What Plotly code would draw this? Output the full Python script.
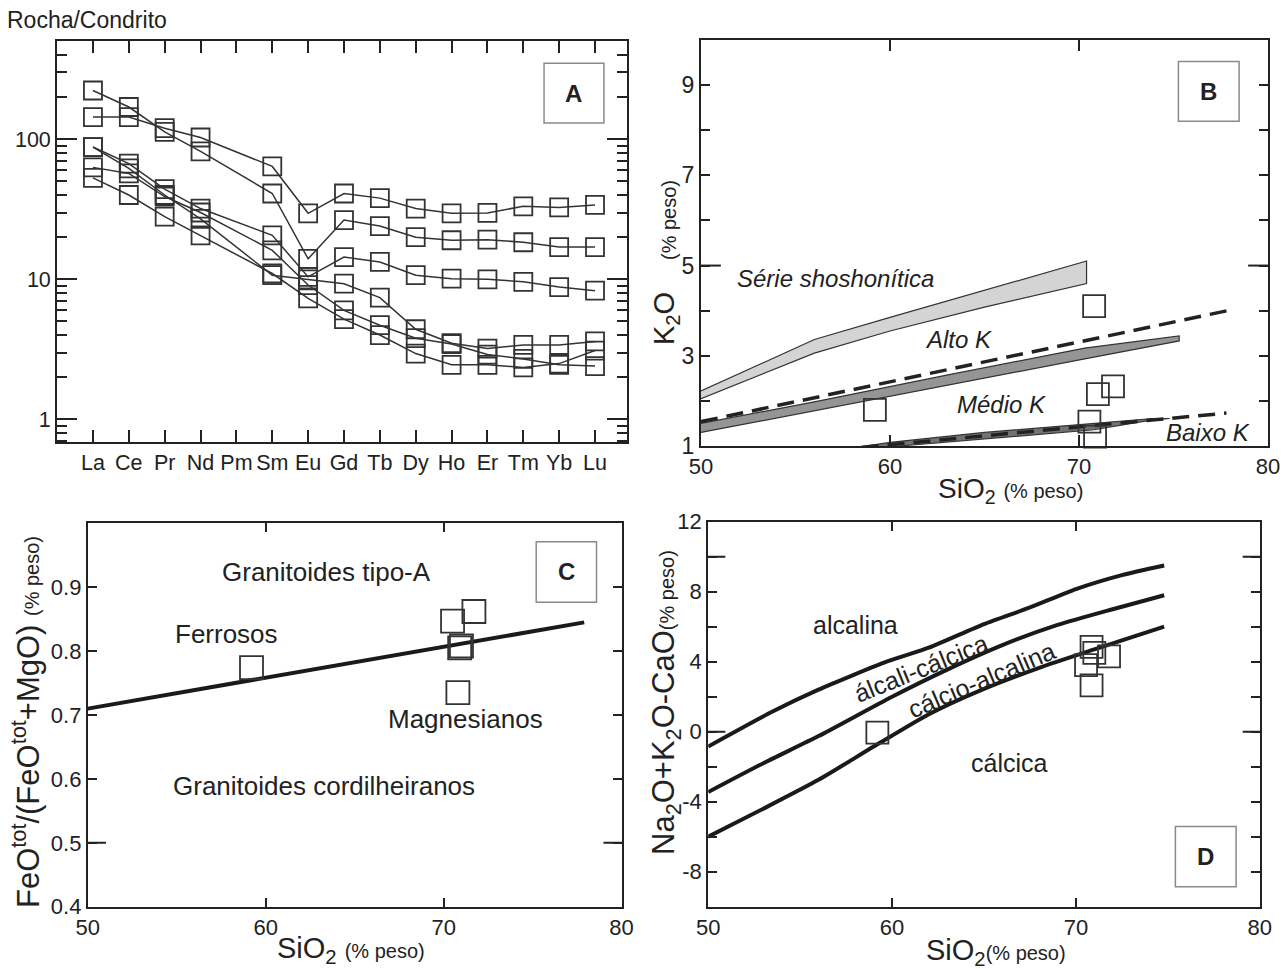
import plotly.graph_objects as go

FONT = "Liberation Sans, Arial, sans-serif"
INK = "#222222"
BOX = "#333333"

# ---------------- Panel A: REE / chondrite ----------------
ree = ["La", "Ce", "Pr", "Nd", "Pm", "Sm", "Eu", "Gd", "Tb", "Dy", "Ho", "Er", "Tm", "Yb", "Lu"]
ree_s1 = [223, 170, 113, 82, None, 41, 14, 26.5, 24, 20, 19, 19.2, 18.4, 17, 17]
ree_s2 = [144, 144, 120, 103, None, 64, 29.6, 41, 38, 32, 29.6, 29.8, 33.2, 32.6, 34]
ree_s3 = [88, 67, 44, 32, None, 20.6, 10.4, 14.4, 13.3, 10.7, 10.1, 10.0, 9.6, 8.8, 8.3]
ree_s4 = [88, 62, 40, 27, None, 10.7, 10.0, 9.3, 7.4, 4.4, 3.5, 3.2, 3.4, 3.4, 3.6]
ree_s5 = [63, 57, 39, 30, None, 16.1, 9.1, 6.0, 4.7, 3.8, 3.45, 2.9, 2.7, 2.45, 2.4]
ree_s6 = [53, 40, 28, 20.6, None, 11.0, 7.3, 5.2, 4.0, 2.95, 2.45, 2.45, 2.35, 2.5, 3.1]
ree_series = [ree_s1, ree_s2, ree_s3, ree_s4, ree_s5, ree_s6]
a_yticks = [1, 10, 100]
a_minor = [0.7, 0.8, 0.9, 2, 3, 4, 5, 6, 7, 8, 9, 20, 30, 40, 50, 60, 70, 80, 90, 200, 300, 400]

# ---------------- Panel B: K2O vs SiO2 ----------------
b_sio2 = [59.2, 70.8, 71.0, 71.8, 70.55, 70.85]
b_k2o = [1.8, 4.1, 2.15, 2.32, 1.54, 1.21]
sho_x = [50, 56, 60, 65, 70.4, 70.4, 65, 60, 56, 50]
sho_y = [2.22, 3.36, 3.85, 4.45, 5.1, 4.6, 4.08, 3.55, 3.06, 2.05]
med_x = [50, 56, 63, 70.3, 75.3, 75.3, 70.3, 63, 56, 50]
med_y = [1.5, 1.98, 2.57, 3.17, 3.44, 3.33, 2.93, 2.34, 1.78, 1.3]
low_x = [58.7, 60, 65, 70.8, 73.9, 74.8, 73.9, 70.8, 65, 60.5]
low_y = [1.0, 1.08, 1.3, 1.5, 1.61, 1.61, 1.58, 1.36, 1.16, 1.0]
dash_hi_x = [50, 78.2]
dash_hi_y = [1.54, 4.03]
dash_lo_x = [58.5, 77.8]
dash_lo_y = [0.97, 1.73]

# ---------------- Panel C: Fe-number ----------------
c_sio2 = [59.2, 70.5, 71.7, 70.9, 71.0, 70.8]
c_fe = [0.774, 0.847, 0.862, 0.805, 0.808, 0.735]
c_line_x = [50, 77.9]
c_line_y = [0.71, 0.845]

# ---------------- Panel D: MALI ----------------
d_sio2 = [59.2, 70.55, 70.85, 71.0, 71.8, 70.85]
d_mali = [-0.05, 3.8, 4.85, 4.5, 4.3, 2.65]
d_up_x = [50, 53.5, 56, 59.7, 62, 65, 67.5, 70, 72.5, 74.8]
d_up_y = [-0.85, 1.15, 2.4, 4.0, 4.8, 6.15, 7.1, 8.15, 8.95, 9.5]
d_mid_x = [50, 53, 56, 60, 63, 66, 69, 72, 74.8]
d_mid_y = [-3.45, -1.8, -0.25, 2.0, 3.55, 4.95, 6.1, 7.0, 7.8]
d_low_x = [50, 53, 56, 59, 62, 65, 68, 71, 74.8]
d_low_y = [-6.0, -4.4, -2.75, -0.85, 1.0, 2.45, 3.65, 4.7, 6.0]

fig = go.Figure()

# Panel A traces
for s in ree_series:
    fig.add_trace(go.Scatter(
        x=ree, y=s, mode="lines+markers", connectgaps=True,
        line=dict(color="#333333", width=1.5),
        marker=dict(symbol="square-open", size=18, color=BOX, line=dict(width=1.8, color=BOX)),
        xaxis="x", yaxis="y", showlegend=False, cliponaxis=False))

# Panel B traces
fig.add_trace(go.Scatter(x=sho_x, y=sho_y, mode="lines", fill="toself", fillcolor="#d4d4d4",
                         line=dict(color="#333333", width=1.2), xaxis="x2", yaxis="y2", showlegend=False))
fig.add_trace(go.Scatter(x=med_x, y=med_y, mode="lines", fill="toself", fillcolor="#959595",
                         line=dict(color="#333333", width=1.2), xaxis="x2", yaxis="y2", showlegend=False))
fig.add_trace(go.Scatter(x=low_x, y=low_y, mode="lines", fill="toself", fillcolor="#727272",
                         line=dict(color="#333333", width=1.2), xaxis="x2", yaxis="y2", showlegend=False))
fig.add_trace(go.Scatter(x=dash_hi_x, y=dash_hi_y, mode="lines",
                         line=dict(color="#222222", width=3.5, dash="17px,9px"),
                         xaxis="x2", yaxis="y2", showlegend=False))
fig.add_trace(go.Scatter(x=dash_lo_x, y=dash_lo_y, mode="lines",
                         line=dict(color="#222222", width=3.5, dash="17px,9px"),
                         xaxis="x2", yaxis="y2", showlegend=False))
fig.add_trace(go.Scatter(x=b_sio2, y=b_k2o, mode="markers",
                         marker=dict(symbol="square-open", size=22, color=BOX, line=dict(width=1.8, color=BOX)),
                         xaxis="x2", yaxis="y2", showlegend=False, cliponaxis=False))

# Panel C traces
fig.add_trace(go.Scatter(x=c_line_x, y=c_line_y, mode="lines", line=dict(color="#1a1a1a", width=4),
                         xaxis="x3", yaxis="y3", showlegend=False))
fig.add_trace(go.Scatter(x=c_sio2, y=c_fe, mode="markers",
                         marker=dict(symbol="square-open", size=23, color=BOX, line=dict(width=1.8, color=BOX)),
                         xaxis="x3", yaxis="y3", showlegend=False, cliponaxis=False))

# Panel D traces
for xx, yy in [(d_up_x, d_up_y), (d_mid_x, d_mid_y), (d_low_x, d_low_y)]:
    fig.add_trace(go.Scatter(x=xx, y=yy, mode="lines", line=dict(color="#1a1a1a", width=4, shape="spline", smoothing=0.6),
                             xaxis="x4", yaxis="y4", showlegend=False))
fig.add_trace(go.Scatter(x=d_sio2, y=d_mali, mode="markers",
                         marker=dict(symbol="square-open", size=22, color=BOX, line=dict(width=1.8, color=BOX)),
                         xaxis="x4", yaxis="y4", showlegend=False, cliponaxis=False))

W, H = 1288, 969


def dx(a, b):
    return [a / W, b / W]


def dy(top, bottom):
    return [1 - bottom / H, 1 - top / H]


axis_common = dict(showline=True, linecolor="#222222", linewidth=2, mirror="allticks", automargin=False,
                   ticks="inside", tickwidth=2, tickcolor="#222222", showgrid=False, zeroline=False,
                   tickfont=dict(family=FONT, size=22, color=INK))

layout = dict(
    width=W, height=H, margin=dict(l=0, r=0, t=0, b=0, pad=0), autosize=False,
    paper_bgcolor="white", plot_bgcolor="white", showlegend=False,
    font=dict(family=FONT, color=INK),
    xaxis=dict(axis_common, domain=dx(57.1, 627.3), anchor="y", type="category",
               categoryorder="array", categoryarray=ree, range=[-1.0, 14.9], ticklen=12,
               tickfont=dict(family=FONT, size=21.5, color=INK)),
    yaxis=dict(axis_common, domain=dy(40.7, 442.3), anchor="x", type="log",
               range=[-0.164, 2.704], tickvals=a_yticks, ticktext=["1", "10", "100"], ticklen=20,
               minor=dict(tickvals=a_minor, ticks="inside", ticklen=10, tickwidth=2, tickcolor="#222222"),
               tickfont=dict(family=FONT, size=21.5, color=INK)),
    xaxis2=dict(axis_common, domain=dx(701, 1268), anchor="y2", range=[50, 80],
                tickvals=[50, 60, 70, 80], ticklen=11, tickfont=dict(family=FONT, size=22, color=INK)),
    yaxis2=dict(axis_common, domain=dy(40, 446), anchor="x2", range=[1, 10],
                tickvals=list(range(1, 11)), ticktext=["1", " ", "3", " ", "5", " ", "7", " ", "9", " "], ticklen=9,
                tickfont=dict(family=FONT, size=23, color=INK)),
    xaxis3=dict(axis_common, domain=dx(87.8, 621.6), anchor="y3", range=[50, 80],
                tickvals=[50, 60, 70, 80], ticklen=9),
    yaxis3=dict(axis_common, domain=dy(523.3, 906.7), anchor="x3", range=[0.4, 1.0],
                tickvals=[0.4, 0.5, 0.6, 0.7, 0.8, 0.9], ticktext=["0.4", "0.5", "0.6", "0.7", "0.8", "0.9"],
                ticklen=9),
    xaxis4=dict(axis_common, domain=dx(708.2, 1259.8), anchor="y4", range=[50, 80],
                tickvals=[50, 60, 70, 80], ticklen=9),
    yaxis4=dict(axis_common, domain=dy(521.7, 906.7), anchor="x4", range=[-10, 12],
                tickvals=list(range(-10, 13, 2)),
                ticktext=[" ", "-8", " ", "-4", " ", "0", " ", "4", " ", "8", " ", "12"], ticklen=9),
)
fig.update_layout(**layout)

BOXES = [("", (0.854, 0.959, 0.795, 0.944), "A"),
         ("2", (0.842, 0.949, 0.800, 0.947), "B"),
         ("3", (0.840, 0.953, 0.794, 0.952), "C"),
         ("4", (0.847, 0.957, 0.052, 0.208), "D")]

shapes = []
for ax, (x0, x1, y0, y1), _ in BOXES:
    shapes.append(dict(type="rect", xref=f"x{ax} domain", yref=f"y{ax} domain",
                       x0=x0, x1=x1, y0=y0, y1=y1, fillcolor="white",
                       line=dict(color="#8a8a8a", width=1.5), layer="above"))
# longer ticks
for ax, yv, frac in [("2", 5, 0.035), ("3", 0.5, 0.034), ("4", 10, 0.031), ("4", 0, 0.031)]:
    shapes.append(dict(type="line", xref=f"x{ax} domain", yref=f"y{ax}", x0=0, x1=frac, y0=yv, y1=yv,
                       line=dict(color="#222222", width=2)))
    shapes.append(dict(type="line", xref=f"x{ax} domain", yref=f"y{ax}", x0=1 - frac, x1=1, y0=yv, y1=yv,
                       line=dict(color="#222222", width=2)))
fig.update_layout(shapes=shapes)

ann = []
for ax, (x0, x1, y0, y1), letter in BOXES:
    ann.append(dict(xref=f"x{ax} domain", yref=f"y{ax} domain", x=(x0 + x1) / 2, y=(y0 + y1) / 2,
                    xanchor="center", yanchor="middle",
                    text=f"<b>{letter}</b>", showarrow=False, font=dict(family=FONT, size=24, color=INK)))

ann.append(dict(xref="paper", yref="paper", x=5 / W, y=1 - 20 / H, xanchor="left", yanchor="middle",
                text="Rocha/Condrito", showarrow=False, font=dict(family=FONT, size=23, color=INK)))

# Panel B texts
for t, x, y in [("Série shoshonítica", 57.1, 4.72), ("Alto K", 63.65, 3.35),
                ("Médio K", 65.9, 1.93), ("Baixo K", 76.8, 1.29)]:
    ann.append(dict(xref="x2", yref="y2", x=x, y=y, text=f"<i>{t}</i>", showarrow=False,
                    xanchor="center", yanchor="middle",
                    font=dict(family=FONT, size=24, color=INK)))
# Panel C texts
for t, x, y in [("Granitoides tipo-A", 63.4, 0.924), ("Ferrosos", 57.8, 0.827),
                ("Magnesianos", 71.2, 0.693), ("Granitoides cordilheiranos", 63.3, 0.589)]:
    ann.append(dict(xref="x3", yref="y3", x=x, y=y, text=t, showarrow=False,
                    xanchor="center", yanchor="middle",
                    font=dict(family=FONT, size=26, color=INK)))
# Panel D texts
for t, x, y, ang in [("alcalina", 58.0, 6.1, 0), ("álcali-cálcica", 61.6, 3.65, -22),
                     ("cálcio-alcalina", 64.85, 2.95, -23), ("cálcica", 66.4, -1.77, 0)]:
    ann.append(dict(xref="x4", yref="y4", x=x, y=y, text=t, textangle=ang, showarrow=False,
                    xanchor="center", yanchor="middle",
                    font=dict(family=FONT, size=25, color=INK)))

# Axis titles
P = "<span style='font-size:20px'>(% peso)</span>"
titles = [
    (666, 318, -90, "K<sub>2</sub>O", 29),
    (669, 220, -90, "(% peso)", 20),
    (1010, 490, 0, f"SiO<sub>2</sub> {P}", 28),
    (351, 950, 0, f"SiO<sub>2</sub> {P}", 29),
    (996, 952, 0, f"SiO<sub>2</sub>{P}", 29),
    (26, 722, -90, f"FeO<sup>tot</sup>/(FeO<sup>tot</sup>+MgO) {P}", 31),
    (666, 702, -90, f"Na<sub>2</sub>O+K<sub>2</sub>O-CaO{P}", 31),
]
for px, py, ang, t, fs in titles:
    ann.append(dict(xref="paper", yref="paper", x=px / W, y=1 - py / H, textangle=ang, showarrow=False,
                    xanchor="center", yanchor="middle",
                    text=t, font=dict(family=FONT, size=fs, color=INK)))

fig.update_layout(annotations=ann)
fig.write_html("out.html",
               post_script="document.body.style.margin='0px';document.body.style.padding='0px';"
                           "document.body.style.overflow='hidden';")
